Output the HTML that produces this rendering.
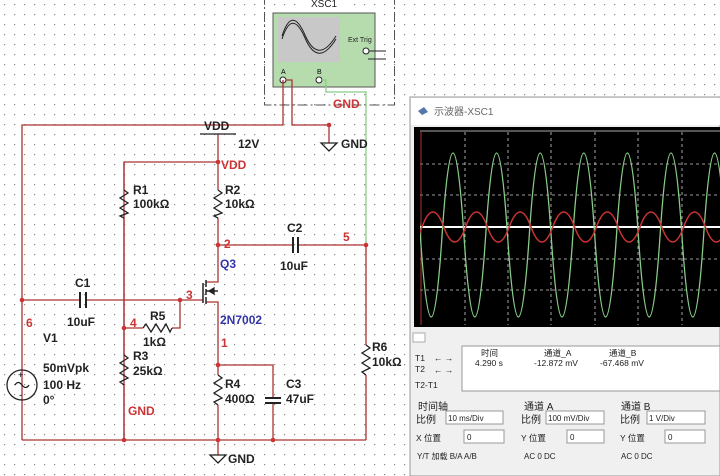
<!DOCTYPE html>
<html><head><meta charset="utf-8"><style>
body{margin:0;width:720px;height:476px;overflow:hidden;background:#fff;font-family:"Liberation Sans","Noto Sans CJK SC",sans-serif}
svg{position:absolute;left:0;top:0}
</style></head><body>
<svg width="720" height="476" viewBox="0 0 720 476" font-family="Liberation Sans, Noto Sans CJK SC, sans-serif">
<defs><pattern id="g" width="10" height="10" patternUnits="userSpaceOnUse"><rect x="4" y="4" width="1.2" height="1.2" fill="#888"/></pattern>
<clipPath id="sc"><rect x="420" y="131" width="300" height="194"/></clipPath></defs>
<rect width="720" height="476" fill="#fff"/>
<rect width="720" height="476" fill="url(#g)"/>
<!-- XSC1 -->
<rect x="264.5" y="-2" width="130" height="107" fill="none" stroke="#555" stroke-dasharray="10,3,2,3"/>
<rect x="300" y="0" width="50" height="8" fill="#fff"/>
<text x="311" y="7" font-size="10" fill="#222">XSC1</text>
<rect x="273" y="13" width="102" height="74" fill="#b6dcae" stroke="#555"/>
<rect x="278" y="17" width="62" height="45" fill="#c8c8c8"/>
<path d="M282 36 Q292 5 305 35 T336 36" fill="none" stroke="#222"/>
<path d="M282 39 Q292 8 305 38 T336 39" fill="none" stroke="#222"/>
<text x="348" y="42" font-size="7" fill="#222">Ext Trig</text>
<circle cx="366" cy="51" r="3" fill="#fff" stroke="#222"/><path d="M369 51H386M368 59H386" stroke="#222"/>
<text x="281" y="74" font-size="7">A</text><text x="317" y="74" font-size="7">B</text>
<circle cx="283" cy="80" r="3" fill="#fff" stroke="#222"/><circle cx="319" cy="80" r="3" fill="#fff" stroke="#222"/>
<!-- red wires -->
<g stroke="#a33" stroke-width="1.3" fill="none">
<path d="M22 440V125H283V80"/>
<path d="M286 80H292V125H329V143"/>
<path d="M124 440V162H218"/>
<path d="M218 134V162M218 162V190M218 218V245M218 245V282H206"/>
<path d="M218 245H293M298 245H366V345M366 375V440"/>
<path d="M22 300H80M86 300H180V328H172M143 328H124"/>
<path d="M180 300H203"/>
<path d="M206 302H218V365H273V398M273 403V440"/>
<path d="M218 365V375M218 405V440M22 440H366M218 440V455"/>
<path d="M124 190V162M124 218V355M124 385V440"/>
</g>
<path d="M322 80H326V92H366V245" stroke="#8c8" stroke-width="1.3" fill="none"/>
<!-- components -->
<g stroke="#222" stroke-width="1.3" fill="none">
<path d="M200 134H236"/>
<path d="M124 190L128 193L120 198L128 203L120 208L128 213L120 216L124 218"/>
<path d="M218 190L222 193L214 198L222 203L214 208L222 213L214 216L218 218"/>
<path d="M218 375L222 378L214 383L222 388L214 393L222 398L214 402L218 405"/>
<path d="M366 345L370 348L362 353L370 358L362 363L370 368L362 372L366 375"/>
<path d="M124 355L128 358L120 363L128 368L120 373L128 378L120 382L124 385"/>
<path d="M143 328L146 324L151 332L156 324L161 332L166 324L170 332L172 328"/>
<path d="M80 292V308M86 292V308M293 237V253M298 237V253" stroke-width="2"/>
<path d="M265 398H281M265 403H281" stroke-width="2"/>
<path d="M203 283V303M206 280V287M206 289V295M206 297V304M206 291H218" stroke-width="1.5"/>
<path d="M209 291L214 288V294Z" fill="#222"/>
<path d="M321 143H337L329 151Z"/><path d="M210 455H226L218 463Z"/>
<circle cx="22" cy="385" r="15"/><path d="M15 385Q18 380 22 385T29 385"/>
</g>
<text x="18" y="378" font-size="9">+</text><text x="19" y="398" font-size="9">-</text>
<g fill="#c33"><circle cx="329" cy="125" r="2.3"/><circle cx="218" cy="162" r="2.3"/><circle cx="218" cy="245" r="2.3"/><circle cx="366" cy="245" r="2.3"/><circle cx="180" cy="300" r="2.3"/><circle cx="22" cy="300" r="2.3"/><circle cx="124" cy="328" r="2.3"/><circle cx="218" cy="365" r="2.3"/><circle cx="124" cy="440" r="2.3"/><circle cx="218" cy="440" r="2.3"/><circle cx="273" cy="440" r="2.3"/></g>
<g font-size="12" font-weight="bold" fill="#222">
<text x="204" y="130">VDD</text><text x="238" y="148">12V</text><text x="341" y="148">GND</text>
<text x="133" y="194">R1</text><text x="133" y="208">100kΩ</text>
<text x="225" y="194">R2</text><text x="225" y="208">10kΩ</text>
<text x="287" y="232">C2</text><text x="280" y="270">10uF</text>
<text x="75" y="287">C1</text><text x="67" y="326">10uF</text>
<text x="43" y="342">V1</text><text x="43" y="372">50mVpk</text><text x="43" y="389">100 Hz</text><text x="43" y="404">0°</text>
<text x="150" y="320">R5</text><text x="143" y="346">1kΩ</text>
<text x="133" y="360">R3</text><text x="133" y="375">25kΩ</text>
<text x="225" y="388">R4</text><text x="225" y="403">400Ω</text>
<text x="286" y="388">C3</text><text x="286" y="403">47uF</text>
<text x="372" y="351">R6</text><text x="372" y="366">10kΩ</text>
<text x="228" y="463">GND</text>
</g>
<g font-size="12" font-weight="bold" fill="#c33">
<text x="333" y="108">GND</text><text x="221" y="169">VDD</text><text x="224" y="248">2</text><text x="343" y="241">5</text>
<text x="186" y="299">3</text><text x="26" y="327">6</text><text x="130" y="327">4</text><text x="221" y="347">1</text><text x="128" y="415">GND</text>
</g>
<g font-size="12" font-weight="bold" fill="#33a"><text x="220" y="268">Q3</text><text x="220" y="324">2N7002</text></g>
<!-- scope window -->
<rect x="410" y="97" width="310" height="379" fill="#f0f0f0" stroke="#999"/>
<rect x="411" y="98" width="309" height="27" fill="#fff"/>
<path d="M418 111L424 107L428 112L422 115Z" fill="#5577aa"/>
<text x="434" y="115" font-size="10" fill="#666">示波器-XSC1</text>
<rect x="414" y="127" width="306" height="200" fill="#000"/>
<g stroke="#ccc" stroke-dasharray="3,3" stroke-width="0.8">
<path d="M465 132V325M508 132V325M551 132V325M595 132V325M638 132V325M682 132V325"/>
<path d="M420 164H720M420 195H720M420 259H720M420 290H720"/>
</g>
<path d="M420 131H720" stroke="#aaa"/>
<path d="M421 131V325" stroke="#a33"/>
<path d="M420 227H720" stroke="#fff" stroke-width="2"/>
<g clip-path="url(#sc)" fill="none">
<path d="M398.5 235 Q409.4 71 420.3 235 T442.1 235 T463.9 235 T485.7 235 T507.5 235 T529.3 235 T551.1 235 T572.9 235 T594.7 235 T616.5 235 T638.3 235 T660.1 235 T681.9 235 T703.7 235 T725.5 235 T747.3 235" stroke="#8c8" stroke-width="1.3"/>
<path d="M378.4 227 Q389.3 197 400.2 227 T422 227 T443.8 227 T465.6 227 T487.4 227 T509.2 227 T531 227 T552.8 227 T574.6 227 T596.4 227 T618.2 227 T640 227 T661.8 227 T683.6 227 T705.4 227 T727.2 227" stroke="#c33" stroke-width="1.5"/>
</g>
<rect x="413" y="333" width="12" height="9" fill="#fff" stroke="#aaa"/>
<rect x="462" y="346" width="258" height="45" fill="#fff" stroke="#999"/>
<g font-size="8.5" fill="#222">
<text x="415" y="361">T1</text><text x="415" y="372">T2</text><text x="415" y="388">T2-T1</text>
<text x="434" y="361">← →</text><text x="434" y="373">← →</text>
<text x="481" y="356">时间</text><text x="475" y="366">4.290 s</text>
<text x="544" y="356">通道_A</text><text x="534" y="366">-12.872 mV</text>
<text x="609" y="356">通道_B</text><text x="600" y="366">-67.468 mV</text>
<text x="418" y="410" font-size="10">时间轴</text><text x="524" y="410" font-size="10">通道 A</text><text x="621" y="410" font-size="10">通道 B</text>
<text x="416" y="423" font-size="10">比例</text><text x="521" y="423" font-size="10">比例</text><text x="620" y="423" font-size="10">比例</text>
<text x="416" y="441">X 位置</text><text x="521" y="441">Y 位置</text><text x="620" y="441">Y 位置</text>
</g>
<g fill="#fff" stroke="#999"><rect x="446" y="411" width="57" height="13"/><rect x="546" y="411" width="58" height="13"/><rect x="647" y="411" width="58" height="13"/>
<rect x="464" y="430" width="40" height="13"/><rect x="567" y="430" width="37" height="13"/><rect x="665" y="430" width="40" height="13"/></g>
<g font-size="8" fill="#222"><text x="448" y="421">10 ms/Div</text><text x="548" y="421">100 mV/Div</text><text x="649" y="421">1 V/Div</text>
<text x="467" y="440">0</text><text x="570" y="440">0</text><text x="668" y="440">0</text>
<text x="417" y="459">Y/T 加载 B/A A/B</text><text x="524" y="459">AC  0  DC</text><text x="621" y="459">AC  0  DC</text></g>
</svg>
</body></html>
